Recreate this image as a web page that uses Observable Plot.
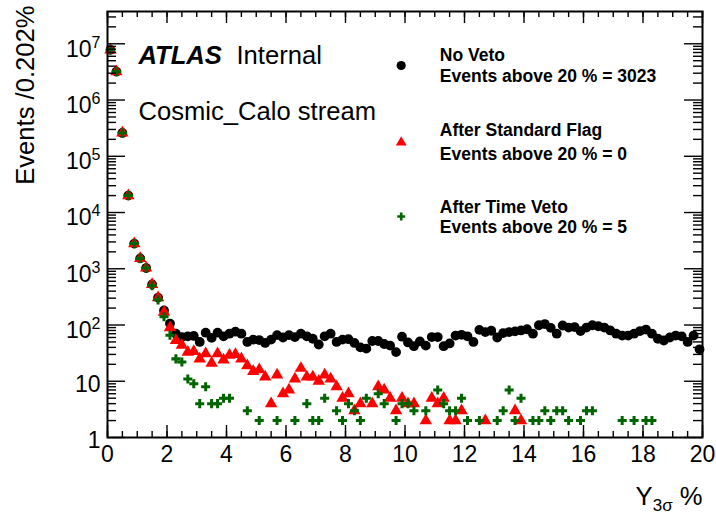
<!DOCTYPE html>
<html>
<head>
<meta charset="utf-8">
<script src="https://cdn.jsdelivr.net/npm/d3@7"></script>
<script src="https://cdn.jsdelivr.net/npm/@observablehq/plot@0.6"></script>
<style>
  html, body { margin: 0; padding: 0; background: #ffffff; }
  #chart { width: 716px; height: 513px; }
</style>
</head>
<body>
<div id="chart"></div>
<script>
// ---------------- data ----------------
const binLow = 0;          // histogram lower edge (%)
const binWidth = 0.2;      // bin width (%)

// Events per bin, "No Veto"
const noVeto = [
  7.8e6, 3.2e6, 2.6e5, 2.0e4, 2800, 1530, 1030, 528, 307, 182,
  106, 70, 61, 63, 64, 50, 73, 59, 73, 63,
  70, 76, 70, 50, 55, 54, 48, 55, 66, 60,
  66, 61, 70, 63, 57, 45, 63, 70, 50, 55,
  56, 48, 40, 38, 52, 52, 46, 43, 33, 62,
  49, 42, 51, 43, 61, 61, 42, 47, 65, 67,
  63, 50, 82, 75, 79, 60, 72, 75, 77, 80,
  84, 70, 99, 104, 89, 70, 98, 90, 92, 78,
  90, 99, 95, 90, 80, 70, 65, 65, 70, 78,
  83, 70, 57, 53, 60, 65, 63, 50, 65, 37
];

// Events per bin, "After Standard Flag" (null = empty bin)
const stdFlag = [
  7.8e6, 3.2e6, 2.6e5, 2.0e4, 2800, 1530, 1030, 528, 307, 170,
  90, 53, 44, 33, 34, 25, 31, 21, 31, 24,
  29, 30, 25, 19, 15, 16, 12, 4, 13, 6,
  7, 11, 17, 12, 12, 10, 13, 11, 8, 5,
  6, 3, 4, null, 4, 8, 7, 5, 3, 5,
  4, 4, null, 2, 5, 4, 5, 2, 2, 3,
  null, null, null, 2, null, null, null, null, 3, 2,
  null, null, null, null, null, null, null, null, null, null,
  null, null, null, null, null, null, null, null, null, null,
  null, null, null, null, null, null, null, null, null, null
];

// Events per bin, "After Time Veto" (null = empty bin)
const timeVeto = [
  7.8e6, 3.2e6, 2.6e5, 2.0e4, 2800, 1530, 1030, 500, 280, 140,
  66, 25, 22, 11, 9, 4, 8, 4, 4, 5,
  5, null, null, 3, null, 2, null, null, 2, null,
  null, 2, null, 4, 2, 2, 5, null, 3, 2,
  4, 3, 2, 5, null, 6, 4, null, 2, 4,
  4, 3, null, 3, null, 7, 4, 3, 3, 5,
  2, null, 2, null, null, 2, 3, 7, 2, 5,
  null, 2, 2, 3, 2, 3, 3, 2, null, 2,
  3, 3, null, null, null, null, 2, null, 2, null,
  2, 2, null, null, null, null, null, null, null, null
];

const seriesNames = ["No Veto", "After Standard Flag", "After Time Veto"];
const eventsAbove = [3023, 0, 5];
const threshold = 20;

const xTicks = [0, 2, 4, 6, 8, 10, 12, 14, 16, 18, 20];
const yTicks = [1, 10, 1e2, 1e3, 1e4, 1e5, 1e6, 1e7];
const xDomain = [0, 20];
const yDomain = [1, 3.75e7];

const yTitle = "Events /0.202%";
const xTitle = "Y3σ %";
const atlasLabel = "ATLAS";
const atlasStatus = "Internal";
const streamLabel = "Cosmic_Calo stream";

// ---------------- layout / style ----------------
const W = 716, H = 513;
const mL = 107, mR = 14, mT = 11, mB = 76;
const fw = W - mL - mR, fh = H - mT - mB;
const FONT = "'Liberation Sans', Arial, Helvetica, sans-serif";

const styles = [
  {symbol: "circle",   color: "#000000", r: 4.9, lr: 4.6},
  {symbol: "triangle", color: "#ff0000", r: 4.6, lr: 4.0},
  {symbol: "cross",    color: "#006400", r: 3.8, lr: 3.3}
];
const seriesValues = [noVeto, stdFlag, timeVeto];

const xMinor = d3.range(xDomain[0], xDomain[1] + 1e-9, 0.5);
const yMinor = [];
for (let e = 0; e <= 7; e++) for (let m = 2; m <= 9; m++) {
  const v = m * Math.pow(10, e);
  if (v <= yDomain[1]) yMinor.push(v);
}

const marks = [];

// data markers
seriesValues.forEach((vals, k) => {
  const pts = vals.map((v, i) => ({x: binLow + binWidth * (i + 0.5), y: v}))
                  .filter(d => d.y != null && d.y > 0);
  marks.push(Plot.dot(pts, {x: "x", y: "y", r: styles[k].r, symbol: styles[k].symbol,
                            fill: styles[k].color, stroke: "none"}));
});

// tick marks (inward, on all four sides)
const tickW = 1.4;
marks.push(Plot.ruleX(xTicks, {x: d => d, insetTop: fh - 12, stroke: "black", strokeWidth: tickW}));
marks.push(Plot.ruleX(xMinor, {x: d => d, insetTop: fh - 6, stroke: "black", strokeWidth: tickW}));
marks.push(Plot.ruleX(xTicks, {x: d => d, insetBottom: fh - 12, stroke: "black", strokeWidth: tickW}));
marks.push(Plot.ruleX(xMinor, {x: d => d, insetBottom: fh - 6, stroke: "black", strokeWidth: tickW}));
marks.push(Plot.ruleY(yTicks, {y: d => d, insetRight: fw - 18, stroke: "black", strokeWidth: tickW}));
marks.push(Plot.ruleY(yMinor, {y: d => d, insetRight: fw - 9, stroke: "black", strokeWidth: tickW}));
marks.push(Plot.ruleY(yTicks, {y: d => d, insetLeft: fw - 18, stroke: "black", strokeWidth: tickW}));
marks.push(Plot.ruleY(yMinor, {y: d => d, insetLeft: fw - 9, stroke: "black", strokeWidth: tickW}));
marks.push(Plot.frame({stroke: "black", strokeWidth: 2}));

// axes labels
marks.push(Plot.axisX(xTicks, {anchor: "bottom", tickSize: 0, tickPadding: 8, fontSize: 23,
                               label: null, tickFormat: d => String(d)}));
marks.push(Plot.axisY(yTicks, {anchor: "left", tickSize: 0, tickPadding: 7, fontSize: 23, dy: 3,
                               label: null,
                               tickFormat: d => d < 100 ? String(d) : "10^" + Math.round(Math.log10(d))}));

// axis titles
marks.push(Plot.text([yTitle], {frameAnchor: "top-left", text: d => d, rotate: -90,
  textAnchor: "end", lineAnchor: "bottom", dx: -74, dy: -6, fontSize: 25.6}));
marks.push(Plot.text([xTitle], {frameAnchor: "bottom-right", text: d => d,
  textAnchor: "end", lineAnchor: "bottom", dx: 0, dy: 67, fontSize: 25.6}));

// ATLAS labels
marks.push(Plot.text([atlasLabel], {frameAnchor: "top-left", text: d => d, textAnchor: "start",
  lineAnchor: "bottom", dx: 31, dy: 52, fontSize: 25.6, fontWeight: "bold", fontStyle: "italic"}));
marks.push(Plot.text([atlasStatus], {frameAnchor: "top-left", text: d => d, textAnchor: "start",
  lineAnchor: "bottom", dx: 129, dy: 52, fontSize: 25.6}));
marks.push(Plot.text([streamLabel], {frameAnchor: "top-left", text: d => d, textAnchor: "start",
  lineAnchor: "bottom", dx: 31, dy: 108, fontSize: 25.6}));

// legend
const legMarkDy = [54, 131, 205];
const legLine1Dy = [49, 124, 201.7];
const legLine2Dy = [70.7, 148.3, 221.7];
seriesNames.forEach((name, k) => {
  marks.push(Plot.dot([name], {frameAnchor: "top-left", dx: 293.7, dy: legMarkDy[k],
    r: styles[k].lr, symbol: styles[k].symbol, fill: styles[k].color, stroke: "none"}));
  marks.push(Plot.text([name], {frameAnchor: "top-left", text: d => d, textAnchor: "start",
    lineAnchor: "bottom", dx: 332.3, dy: legLine1Dy[k], fontSize: 17.5, fontWeight: "bold"}));
  marks.push(Plot.text([`Events above ${threshold} % = ${eventsAbove[k]}`], {frameAnchor: "top-left",
    text: d => d, textAnchor: "start", lineAnchor: "bottom", dx: 332.3, dy: legLine2Dy[k],
    fontSize: 17.5, fontWeight: "bold"}));
});

const svg = Plot.plot({
  width: W, height: H,
  marginLeft: mL, marginRight: mR, marginTop: mT, marginBottom: mB,
  style: {background: "#ffffff", fontFamily: FONT, color: "#000000", overflow: "visible"},
  x: {domain: xDomain, label: null},
  y: {type: "log", domain: yDomain, label: null},
  marks
});

// rich text: superscripts for 10^n and subscript in the x title
d3.select(svg).selectAll("text").each(function () {
  const t = this.textContent;
  const m = /^10\^(\d+)$/.exec(t);
  if (m) {
    this.textContent = "10";
    this.setAttribute("dy", "2.5");
    d3.select(this).append("tspan").attr("dy", "-9").attr("font-size", "16").text(m[1]);
  } else if (t === xTitle) {
    this.textContent = "Y";
    d3.select(this).append("tspan").attr("dy", "6").attr("font-size", "17").text("3σ");
    d3.select(this).append("tspan").attr("dy", "-6").text(" %");
  }
});

document.getElementById("chart").appendChild(svg);
</script>
</body>
</html>
